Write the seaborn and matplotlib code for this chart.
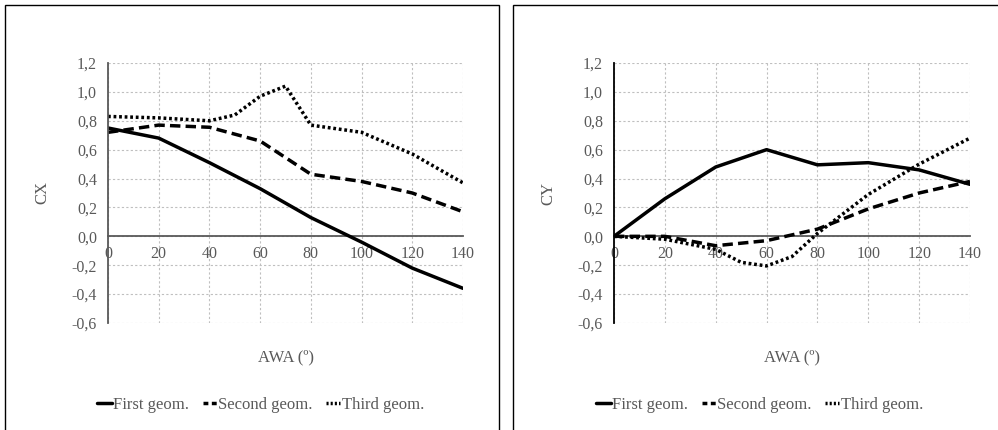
import matplotlib
matplotlib.use("Agg")
import matplotlib.pyplot as plt
from matplotlib.patches import Rectangle
from matplotlib.lines import Line2D
from matplotlib.ticker import FuncFormatter
import seaborn as sns
import pandas as pd

# AWA angles (deg) and coefficients
awa = [0, 20, 40, 60, 80, 100, 120, 140]
awa_third_cx = [0, 20, 40, 50, 60, 70, 80, 100, 120, 140]
awa_third_cy = [0, 20, 40, 50, 60, 70, 80, 100, 120, 140]

cx_first = [0.75, 0.68, 0.51, 0.33, 0.13, -0.04, -0.22, -0.36]
cx_second = [0.72, 0.77, 0.755, 0.66, 0.43, 0.38, 0.30, 0.17]
cx_third = [0.83, 0.82, 0.80, 0.84, 0.97, 1.04, 0.77, 0.72, 0.57, 0.37]

cy_first = [0.0, 0.26, 0.48, 0.60, 0.495, 0.51, 0.46, 0.36]
cy_second = [0.0, 0.0, -0.065, -0.03, 0.05, 0.19, 0.30, 0.38]
cy_third = [0.0, -0.02, -0.09, -0.18, -0.205, -0.14, 0.02, 0.29, 0.50, 0.68]

labels = ["First geom.", "Second geom.", "Third geom."]

sns.set_style("white")
plt.rcParams["font.family"] = ["Liberation Serif", "DejaVu Serif"]

fig = plt.figure(figsize=(9.98, 4.3), dpi=100)

# panel frames
fig.add_artist(Rectangle((5 / 998, -0.01), 494 / 998, 1 - 5 / 430 + 0.01,
                         transform=fig.transFigure, fill=False, ec="black", lw=1.0))
fig.add_artist(Rectangle((513 / 998, -0.01), 490 / 998, 1 - 5 / 430 + 0.01,
                         transform=fig.transFigure, fill=False, ec="black", lw=1.0))

ax1 = fig.add_axes([108 / 998, 1 - 323 / 430, 355 / 998, 260 / 430])
ax2 = fig.add_axes([614 / 998, 1 - 323 / 430, 356 / 998, 260 / 430])

styles = [
    dict(color="black", lw=2.5, ls="-"),
    dict(color="black", lw=2.5, ls=(0, (3.0, 1.5))),
    dict(color="black", lw=2.5, ls=(0, (0.8, 0.8))),
]
# shorter dash patterns so the small legend keys show a few dashes
legend_ls = ["-", (0, (1.4, 1.0)), (0, (0.6, 0.6))]

gray = "#595959"
fmt = FuncFormatter(lambda v, p: f"{v:.1f}".replace(".", ","))


def draw(ax, series, ylabel):
    for (x, y), lab, st in zip(series, labels, styles):
        df = pd.DataFrame({"AWA": x, "val": y})
        sns.lineplot(data=df, x="AWA", y="val", ax=ax, label=lab, **st)
    ax.set_xlim(0, 140)
    ax.set_ylim(-0.6, 1.2)
    ax.set_xticks(awa)
    ax.set_yticks([-0.6, -0.4, -0.2, 0.0, 0.2, 0.4, 0.6, 0.8, 1.0, 1.2])
    ax.yaxis.set_major_formatter(fmt)
    ax.grid(True, color="#bfbfbf", ls=(0, (2, 2)), lw=0.8)
    ax.set_axisbelow(True)
    for s in ["top", "right"]:
        ax.spines[s].set_visible(False)
    ax.spines["bottom"].set_position(("data", 0))
    ax.spines["bottom"].set_color(gray)
    ax.spines["bottom"].set_linewidth(1.3)
    ax.spines["left"].set_color(gray if ax is ax1 else "black")
    ax.spines["left"].set_linewidth(1.3)
    ax.spines["bottom"].set_zorder(1.5)
    ax.tick_params(axis="both", which="major", direction="out", length=5,
                   width=1.0, color=gray, labelcolor=gray, labelsize=11.5)
    ax.tick_params(axis="x", pad=2)
    ax.tick_params(axis="y", pad=3)
    ax.set_xlabel("AWA (º)", fontsize=12, color=gray, labelpad=0)
    ax.xaxis.set_label_coords(0.5, -0.10)
    ax.set_ylabel(ylabel, fontsize=12, color=gray, labelpad=15)
    ax.legend().remove()


draw(ax1, [(awa, cx_first), (awa, cx_second), (awa_third_cx, cx_third)], "CX")
draw(ax2, [(awa, cy_first), (awa, cy_second), (awa_third_cy, cy_third)], "CY")

for cx in [261 / 998, 760 / 998]:
    h = [Line2D([], [], color="black", lw=2.5, ls=ls) for ls in legend_ls]
    fig.legend(h, labels, loc="center", bbox_to_anchor=(cx, 1 - 405 / 430), ncol=3,
               frameon=False, fontsize=12, handlelength=0.85, handletextpad=0.1,
               columnspacing=0.8, labelcolor=gray)

fig.savefig("out.png", dpi=100)
